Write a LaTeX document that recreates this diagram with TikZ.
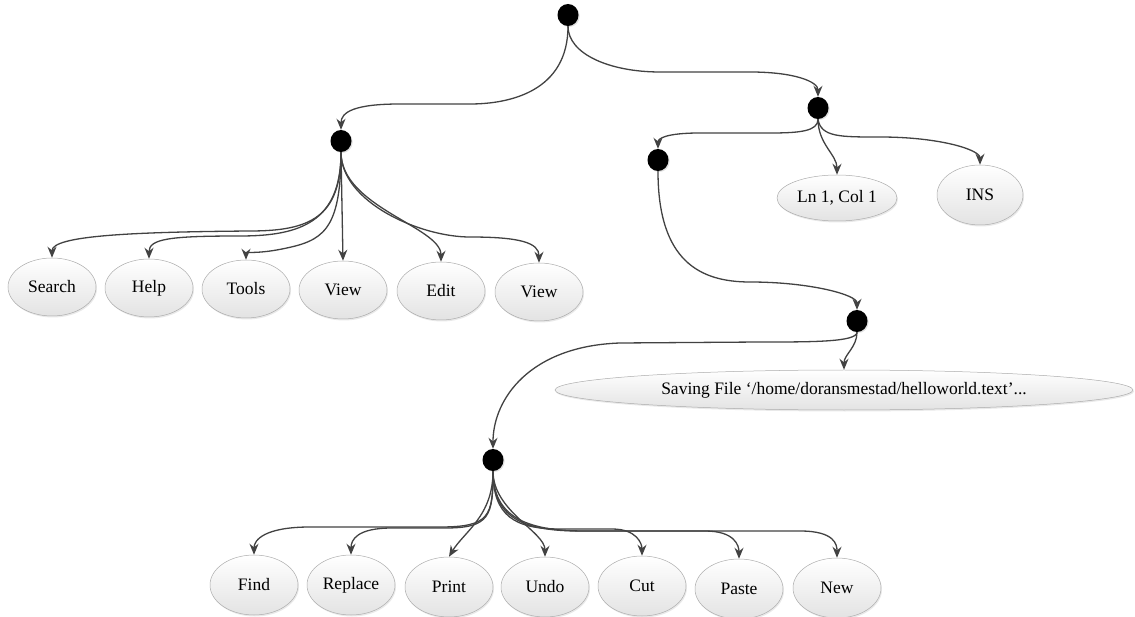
\documentclass[tikz,border=0pt]{standalone}
\usepackage{fontspec}
\setmainfont{Liberation Serif}
\usetikzlibrary{arrows.meta,shadows,shapes.geometric}
\begin{document}
\begin{tikzpicture}[x=1pt,y=-1pt,
  dot/.style={ellipse,fill=black,minimum width=21pt,minimum height=22pt,inner sep=0pt,
    drop shadow={shadow xshift=1.2pt,shadow yshift=-1pt,fill=gray!60,opacity=0.4}},
  leaf/.style={ellipse,draw=gray!65,line width=0.5pt,top color=white,bottom color=gray!22,
    minimum width=88pt,minimum height=58pt,inner sep=0pt,
    font=\fontsize{17.5}{20}\selectfont,
    drop shadow={shadow xshift=1pt,shadow yshift=-1.5pt,fill=gray!50,opacity=0.35}},
  conn/.style={draw=black!74,line width=1.3pt,-{Stealth[length=11pt,width=9pt]}}]
\useasboundingbox (0,0) rectangle (1135,617);
% junction dots
\node[dot] (root) at (568,15) {};
\node[dot] (A) at (341,141) {};
\node[dot] (B) at (818,108) {};
\node[dot] (C) at (658,160) {};
\node[dot] (D) at (857,321) {};
\node[dot] (E) at (493,460) {};
% first row
\node[leaf] (search) at (52,287) {Search};
\node[leaf] (help) at (149,288) {Help};
\node[leaf] (tools) at (246,289) {Tools};
\node[leaf] (view1) at (343,290) {View};
\node[leaf] (edit) at (441,291) {Edit};
\node[leaf] (view2) at (539,292) {View};
% right side
\node[leaf,minimum width=120pt,minimum height=46pt] (ln) at (837,198) {Ln 1, Col 1};
\node[leaf,minimum width=86pt,minimum height=60pt] (ins) at (980,195) {INS};
\node[leaf,minimum width=578pt,minimum height=40pt] (saving) at (844,390) {Saving File ‘/home/doransmestad/helloworld.text’...};
% bottom row
\node[leaf,minimum height=60pt] (find) at (254,585) {Find};
\node[leaf,minimum height=60pt] (replace) at (351,585) {Replace};
\node[leaf,minimum height=60pt] (print) at (449,587) {Print};
\node[leaf,minimum height=60pt] (undo) at (545,587) {Undo};
\node[leaf,minimum height=60pt] (cut) at (642,586) {Cut};
\node[leaf,minimum height=60pt] (paste) at (739,589) {Paste};
\node[leaf,minimum height=60pt] (new) at (837,588) {New};
% upper connectors
\draw[conn] (root.south) .. controls +(0,65) and +(40,0) .. (470,104) -- (400,104)
  .. controls +(-45,0) and +(0,-18) .. (A.north);
\draw[conn] (root.south) .. controls +(0,28) and +(-50,0) .. (660,72) -- (750,72)
  .. controls +(45,0) and +(0,-15) .. (B.north);
\draw[conn] (B.south) .. controls +(0,12) and +(30,0) .. (770,133) -- (700,133)
  .. controls +(-35,0) and +(0,-10) .. (C.north);
\draw[conn] (B.south) .. controls +(0,25) and +(0,-20) .. (ln.north);
\draw[conn] (B.south) .. controls +(3,18) and +(-40,0) .. (880,137)
  .. controls +(60,0) and +(0,-15) .. (ins.north);
\draw[conn] (C.south) .. controls +(0,90) and +(-50,0) .. (750,282)
  .. controls +(60,0) and +(0,-15) .. (D.north);
\draw[conn] (D.south) .. controls +(0,15) and +(0,-15) .. (saving.north);
\draw[conn] (D.south) .. controls +(0,10) and +(50,0) .. (760,342) -- (620,343)
  .. controls +(-90,3) and +(0,-50) .. (E.north);
% fan from A
\draw[conn] (A.south) .. controls +(0,65) and +(60,0) .. (250,231)
  .. controls +(-120,1) and +(0,-22) .. (search.north);
\draw[conn] (A.south) .. controls +(0,70) and +(60,0) .. (240,236)
  .. controls +(-70,0) and +(0,-20) .. (help.north);
\draw[conn] (A.south) .. controls +(0,80) and +(40,-8) .. (282,249)
  .. controls +(-25,5) and +(0,-8) .. (tools.north);
\draw[conn] (A.south) -- (view1.north);
\draw[conn] (A.south) .. controls +(0,55) and +(0,-35) .. (edit.north);
\draw[conn] (A.south) .. controls +(0,50) and +(-50,0) .. (470,237)
  .. controls +(50,0) and +(0,-20) .. (view2.north);
% fan from E
\draw[conn] (E.south) .. controls +(0,45) and +(50,0) .. (440,527) -- (310,527)
  .. controls +(-45,0) and +(0,-15) .. (find.north);
\draw[conn] (E.south) .. controls +(0,45) and +(45,0) .. (445,528) -- (392,528)
  .. controls +(-35,0) and +(0,-15) .. (replace.north);
\draw[conn] (E.south) .. controls +(0,45) and +(15,-25) .. (print.north);
\draw[conn] (E.south) .. controls +(0,40) and +(0,-25) .. (undo.north);
\draw[conn] (E.south) .. controls +(0,45) and +(-45,0) .. (560,529) -- (612,529)
  .. controls +(25,0) and +(0,-12) .. (cut.north);
\draw[conn] (E.south) .. controls +(0,45) and +(-60,0) .. (580,531) -- (705,531)
  .. controls +(30,0) and +(0,-13) .. (paste.north);
\draw[conn] (E.south) .. controls +(0,45) and +(-60,0) .. (585,531) -- (800,531)
  .. controls +(35,0) and +(0,-13) .. (new.north);
\end{tikzpicture}
\end{document}
